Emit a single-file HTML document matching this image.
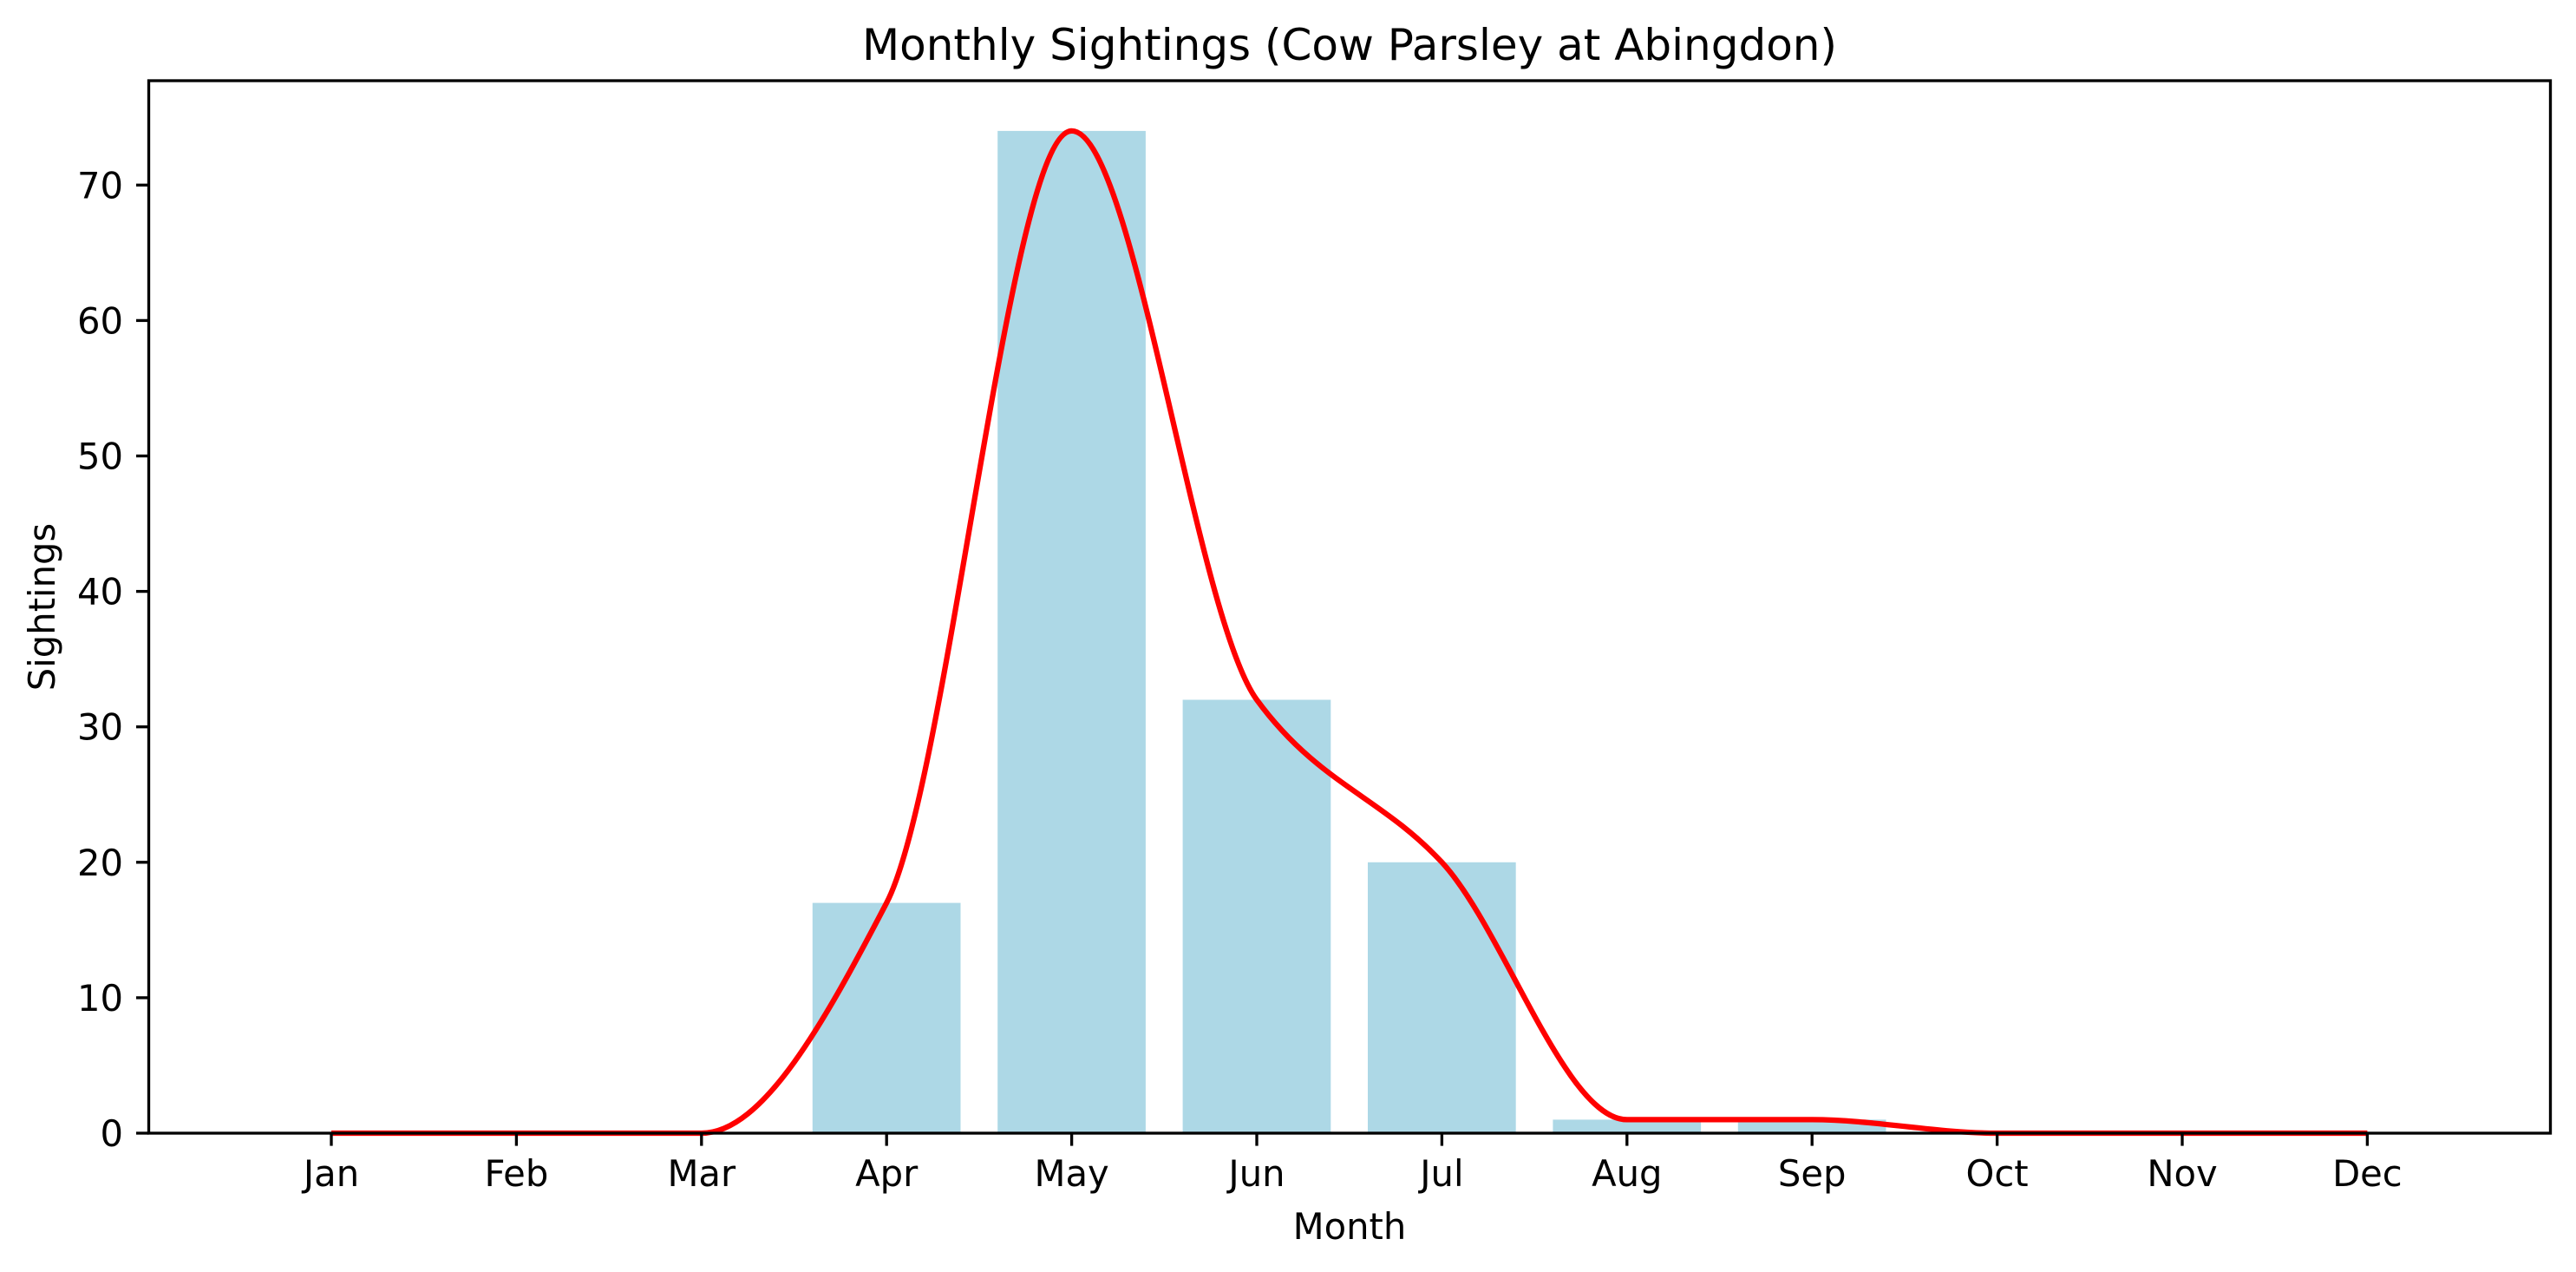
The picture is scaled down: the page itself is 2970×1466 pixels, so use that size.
<!DOCTYPE html>
<html><head><meta charset="utf-8"><style>
html,body{margin:0;padding:0;background:#fff;}
svg{display:block;}
text{font-family:"DejaVu Sans","Liberation Sans",sans-serif;fill:#000;}
</style></head><body>
<svg width="2970" height="1466" viewBox="0 0 2970 1466" xmlns="http://www.w3.org/2000/svg">
<rect width="2970" height="1466" fill="#fff"/>
<!-- bars -->
<g fill="#ADD8E6">
<rect x="936.8" y="1040.6" width="170.7" height="265.4"/>
<rect x="1150.2" y="150.9" width="170.7" height="1155.1"/>
<rect x="1363.6" y="806.5" width="170.7" height="499.5"/>
<rect x="1577" y="993.8" width="170.7" height="312.2"/>
<rect x="1790.4" y="1290.4" width="170.7" height="15.6"/>
<rect x="2003.8" y="1290.4" width="170.7" height="15.6"/>
</g>
<!-- curve -->
<path d="M382,1306 L808.8,1306 C879.9,1306 951.1,1176.9 1022.2,1040.6 C1093.3,904.3 1164.5,150.9 1235.6,150.9 C1306.7,150.9 1377.9,709.4 1449,806.5 C1520.1,903.6 1591.3,917.3 1662.4,993.8 C1733.5,1070.3 1804.7,1290.4 1875.8,1290.4 L2089.2,1290.4 C2160.3,1290.4 2231.5,1306 2302.6,1306 L2729.4,1306" fill="none" stroke="#ff0000" stroke-width="6.25" stroke-linejoin="round"/>
<!-- axes -->
<rect x="171.5" y="93" width="2769" height="1213" fill="none" stroke="#000" stroke-width="3.33" stroke-linecap="square"/>
<!-- y ticks -->
<g stroke="#000" stroke-width="3.33">
<line x1="157" y1="1306" x2="171.5" y2="1306"/>
<line x1="157" y1="1149.9" x2="171.5" y2="1149.9"/>
<line x1="157" y1="993.8" x2="171.5" y2="993.8"/>
<line x1="157" y1="837.7" x2="171.5" y2="837.7"/>
<line x1="157" y1="681.6" x2="171.5" y2="681.6"/>
<line x1="157" y1="525.5" x2="171.5" y2="525.5"/>
<line x1="157" y1="369.4" x2="171.5" y2="369.4"/>
<line x1="157" y1="213.3" x2="171.5" y2="213.3"/>
</g>
<g font-size="41.7" text-anchor="end">
<text x="142" y="1321">0</text>
<text x="142" y="1164.9">10</text>
<text x="142" y="1008.8">20</text>
<text x="142" y="852.7">30</text>
<text x="142" y="696.6">40</text>
<text x="142" y="540.5">50</text>
<text x="142" y="384.4">60</text>
<text x="142" y="228.3">70</text>
</g>
<!-- x ticks -->
<g stroke="#000" stroke-width="3.33">
<line x1="382" y1="1306" x2="382" y2="1320.6"/>
<line x1="595.4" y1="1306" x2="595.4" y2="1320.6"/>
<line x1="808.8" y1="1306" x2="808.8" y2="1320.6"/>
<line x1="1022.2" y1="1306" x2="1022.2" y2="1320.6"/>
<line x1="1235.6" y1="1306" x2="1235.6" y2="1320.6"/>
<line x1="1449" y1="1306" x2="1449" y2="1320.6"/>
<line x1="1662.4" y1="1306" x2="1662.4" y2="1320.6"/>
<line x1="1875.8" y1="1306" x2="1875.8" y2="1320.6"/>
<line x1="2089.2" y1="1306" x2="2089.2" y2="1320.6"/>
<line x1="2302.6" y1="1306" x2="2302.6" y2="1320.6"/>
<line x1="2516" y1="1306" x2="2516" y2="1320.6"/>
<line x1="2729.4" y1="1306" x2="2729.4" y2="1320.6"/>
</g>
<g font-size="41.7" text-anchor="middle">
<text x="382" y="1367">Jan</text>
<text x="595.4" y="1367">Feb</text>
<text x="808.8" y="1367">Mar</text>
<text x="1022.2" y="1367">Apr</text>
<text x="1235.6" y="1367">May</text>
<text x="1449" y="1367">Jun</text>
<text x="1662.4" y="1367">Jul</text>
<text x="1875.8" y="1367">Aug</text>
<text x="2089.2" y="1367">Sep</text>
<text x="2302.6" y="1367">Oct</text>
<text x="2516" y="1367">Nov</text>
<text x="2729.4" y="1367">Dec</text>
<text x="1556" y="1428">Month</text>
<text x="1556" y="69" font-size="50">Monthly Sightings (Cow Parsley at Abingdon)</text>
<text transform="translate(63,699.5) rotate(-90)" x="0" y="0">Sightings</text>
</g>
</svg>
</body></html>
